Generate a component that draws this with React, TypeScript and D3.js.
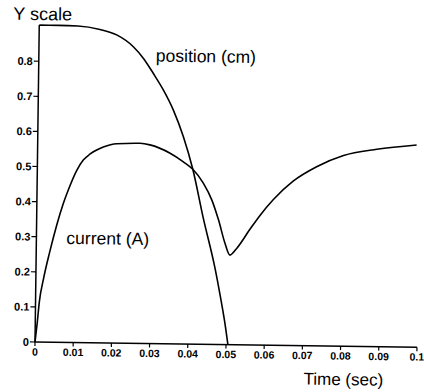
import React from 'react';
import * as d3 from 'd3';

const xTickValues = [0, 0.01, 0.02, 0.03, 0.04, 0.05, 0.06, 0.07, 0.08, 0.09, 0.1];
const xTickLabels = ['0', '0.01', '0.02', '0.03', '0.04', '0.05', '0.06', '0.07', '0.08', '0.09', '0.1'];
const yTickValues = [0, 0.1, 0.2, 0.3, 0.4, 0.5, 0.6, 0.7, 0.8];
const yTickLabels = ['0', '0.1', '0.2', '0.3', '0.4', '0.5', '0.6', '0.7', '0.8'];
const yAxisTop = 0.903;

const positionTime = [0, 0.005, 0.0101, 0.0159, 0.0203, 0.0247, 0.0274, 0.03, 0.0327, 0.0354, 0.0381, 0.0407, 0.0436, 0.0469, 0.0483, 0.0495, 0.0505];
const positionValue = [0.903, 0.903, 0.902, 0.893, 0.878, 0.845, 0.812, 0.77, 0.723, 0.666, 0.591, 0.498, 0.36, 0.215, 0.14, 0.07, 0];

const currentTime = [0, 0.0005, 0.001, 0.002, 0.0036, 0.0053, 0.0069, 0.0082, 0.0103, 0.012, 0.0137, 0.0172, 0.0207, 0.0268, 0.0294, 0.0347, 0.0382, 0.0407, 0.0435, 0.0458, 0.0476, 0.0494, 0.0507, 0.0525, 0.0559, 0.0585, 0.0619, 0.067, 0.0731, 0.0801, 0.0888, 0.0992];
const currentValue = [0, 0.053, 0.115, 0.18, 0.26, 0.335, 0.395, 0.435, 0.49, 0.52, 0.537, 0.558, 0.568, 0.57, 0.566, 0.543, 0.519, 0.498, 0.459, 0.411, 0.355, 0.288, 0.255, 0.275, 0.33, 0.37, 0.415, 0.468, 0.51, 0.543, 0.562, 0.576];

const seriesLabels = ['position (cm)', 'current (A)'];
const yTitle = 'Y scale';
const xTitle = 'Time (sec)';

const FONT = '"Liberation Sans", Arial, Helvetica, sans-serif';

export default function App() {
  const W = 424;
  const H = 392;
  const x = d3.scaleLinear().domain([0, 0.1]).range([35, 417]);
  const y = d3.scaleLinear().domain([0, 0.9]).range([342, 342 - 0.9 * 351]);
  const line = d3
    .line<[number, number]>()
    .x((d) => x(d[0]))
    .y((d) => y(d[1]))
    .curve(d3.curveMonotoneX);

  const posData: [number, number][] = positionTime.map((t, i) => [t, positionValue[i]]);
  const curData: [number, number][] = currentTime.map((t, i) => [t, currentValue[i]]);

  const x0 = x(0);
  const y0 = y(0);

  return (
    <svg
      width={W}
      height={H}
      viewBox={`0 0 ${W} ${H}`}
      style={{ position: 'absolute', left: 0, top: 0, display: 'block', background: '#fff' }}
    >
      <rect x={0} y={0} width={W} height={H} fill="#fff" />
      <g transform={`rotate(0.77 ${x0} ${y0})`}>
        <line x1={x0} y1={y0} x2={x(0.1)} y2={y0} stroke="#000" strokeWidth={1.5} />
        <line x1={x0} y1={y0} x2={x0} y2={y(yAxisTop)} stroke="#000" strokeWidth={1.5} />
        {xTickValues.map((v, i) => (
          <g key={'xt' + i} transform={`translate(${x(v)},${y0})`}>
            <line y1={0} y2={4} stroke="#000" strokeWidth={1.2} />
            <text
              y={6}
              dy="0.71em"
              textAnchor="middle"
              fontFamily={FONT}
              fontWeight="bold"
              fontSize={10.5}
              fill="#000"
            >
              {xTickLabels[i]}
            </text>
          </g>
        ))}
        {yTickValues.map((v, i) => (
          <g key={'yt' + i} transform={`translate(${x0},${y(v)})`}>
            <line x1={0} x2={-5} stroke="#000" strokeWidth={1.2} />
            <text
              x={-6}
              dy="0.35em"
              textAnchor="end"
              fontFamily={FONT}
              fontWeight="bold"
              fontSize={11}
              fill="#000"
            >
              {yTickLabels[i]}
            </text>
          </g>
        ))}
        <path d={line(posData) || ''} fill="none" stroke="#000" strokeWidth={1.6} />
        <path d={line(curData) || ''} fill="none" stroke="#000" strokeWidth={1.6} />
        <text x={9} y={20} fontFamily={FONT} fontSize={18} fill="#000">
          {yTitle}
        </text>
        <text x={152} y={60} fontFamily={FONT} fontSize={17.5} fill="#000">
          {seriesLabels[0]}
        </text>
        <text x={65} y={243.5} fontFamily={FONT} fontSize={17.5} fill="#000">
          {seriesLabels[1]}
        </text>
        <text x={304} y={381} fontFamily={FONT} fontSize={17} fill="#000">
          {xTitle}
        </text>
      </g>
    </svg>
  );
}
